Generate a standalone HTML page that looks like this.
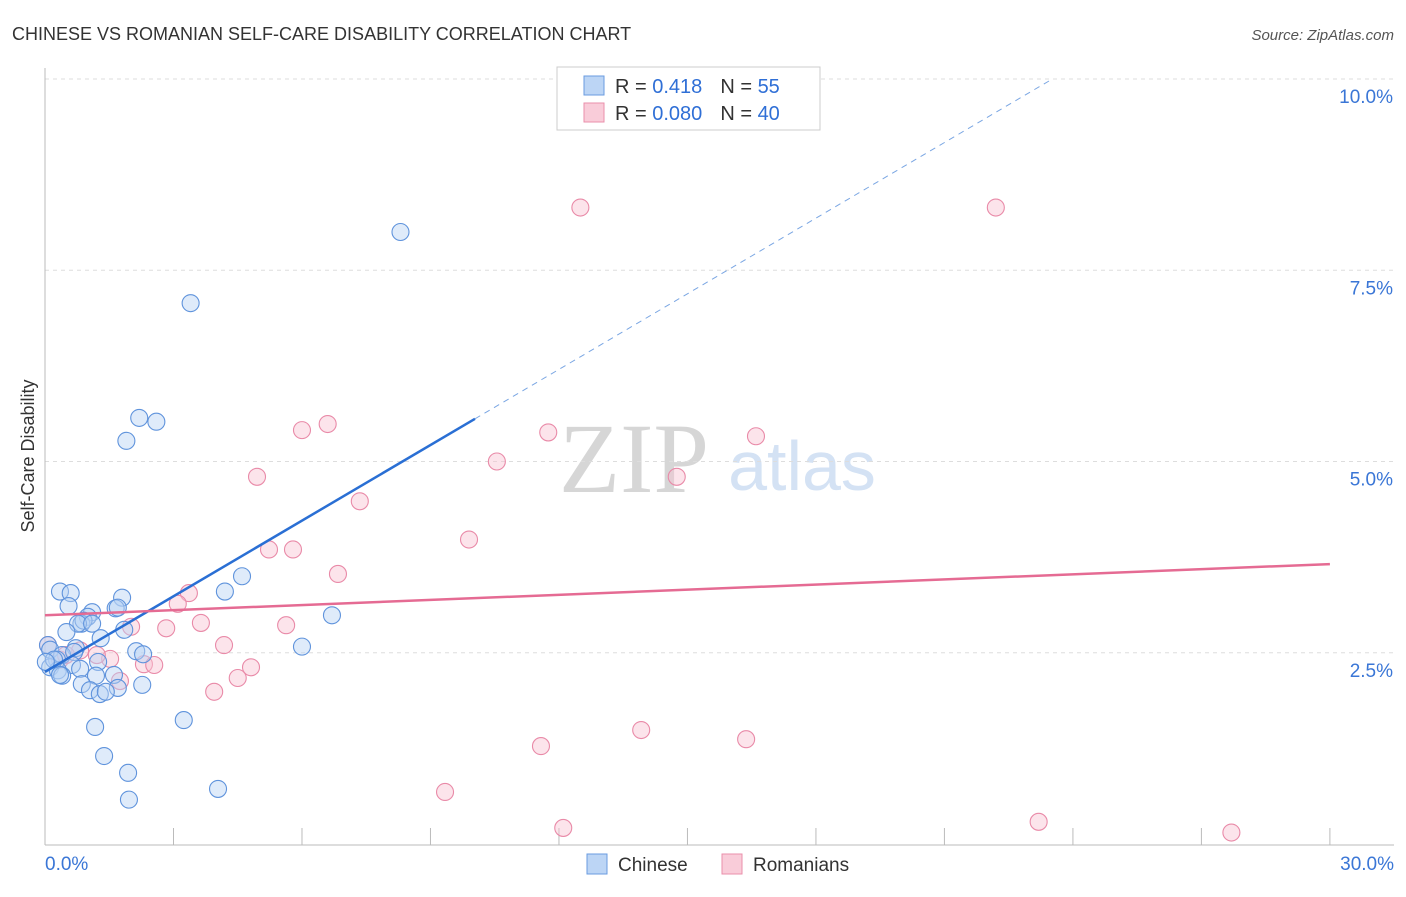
<!DOCTYPE html>
<html><head><meta charset="utf-8"><style>
body{margin:0;background:#fff;font-family:"Liberation Sans",sans-serif}
svg text{font-family:"Liberation Sans",sans-serif}
</style></head><body>
<svg id="c" width="1406" height="892">
<text x="12" y="40" font-size="18" fill="#333">CHINESE VS ROMANIAN SELF-CARE DISABILITY CORRELATION CHART</text>
<text x="1394" y="40" font-size="15" fill="#555" font-style="italic" text-anchor="end">Source: ZipAtlas.com</text>
<g><text x="634" y="492" font-size="100" fill="#d6d6d6" style="font-family:'Liberation Serif',serif" text-anchor="middle">ZIP</text><text x="802" y="490" font-size="70" fill="#d4e2f4" text-anchor="middle">atlas</text></g>
<g id="grid"></g><g id="axes"></g><g id="marks"></g>
<text transform="translate(34,456) rotate(-90)" font-size="18" fill="#333" text-anchor="middle">Self-Care Disability</text>
<g>
<rect x="557" y="67" width="263" height="63" fill="#fff" stroke="#ccc"/>
<rect x="584" y="76" width="20" height="19" fill="#bcd5f5" stroke="#6a9be0"/>
<rect x="584" y="103" width="20" height="19" fill="#f9ccd9" stroke="#ea8fab"/>
<text x="615" y="93" font-size="20" fill="#333">R = <tspan fill="#2f6fd6"> 0.418</tspan><tspan dx="18">N = </tspan><tspan fill="#2f6fd6">55</tspan></text>
<text x="615" y="120" font-size="20" fill="#333">R = <tspan fill="#2f6fd6">0.080</tspan><tspan dx="18">N = </tspan><tspan fill="#2f6fd6">40</tspan></text>
</g>
<g>
<rect x="587" y="854" width="20" height="20" fill="#bcd5f5" stroke="#6a9be0"/>
<text x="618" y="871" font-size="19" fill="#333">Chinese</text>
<rect x="722" y="854" width="20" height="20" fill="#f9ccd9" stroke="#ea8fab"/>
<text x="753" y="871" font-size="19" fill="#333">Romanians</text>
</g>
</svg>
<script>
const xTicks=[0,3,6,9,12,15,18,21,24,27,30];
const yTicks=[2.5,5.0,7.5,10.0];
const chineseX=[8.3,3.4,2.2,2.6,1.9,4.6,4.2,6.7,6.0,0.35,0.6,0.55,1.8,1.65,1.7,1.1,1.0,0.85,0.9,0.77,1.1,0.5,1.3,1.85,0.07,0.12,0.72,0.4,0.68,0.28,0.63,0.12,0.3,0.4,1.24,2.13,2.29,0.82,1.19,1.61,0.86,1.05,2.27,1.7,1.28,1.42,3.24,1.17,1.38,1.94,4.04,1.96,0.21,0.02,0.35];
const chineseY=[8.0,7.07,5.57,5.52,5.27,3.5,3.3,2.99,2.58,3.3,3.28,3.11,3.22,3.08,3.09,3.03,2.97,2.88,2.92,2.88,2.88,2.77,2.69,2.8,2.6,2.54,2.56,2.47,2.51,2.41,2.34,2.31,2.27,2.2,2.38,2.52,2.48,2.29,2.2,2.21,2.09,2.01,2.08,2.04,1.96,1.99,1.62,1.53,1.15,0.93,0.72,0.58,2.41,2.38,2.21];
const romX=[12.5,22.2,6.0,6.6,11.75,16.6,10.55,4.95,14.75,7.35,9.9,5.23,5.79,6.84,3.36,3.1,3.64,2.01,2.83,5.63,4.18,0.07,1.52,1.21,0.35,2.31,2.55,4.81,4.5,1.75,3.95,11.58,13.92,16.37,9.34,12.1,23.2,27.7,0.82,0.49];
const romY=[8.32,8.32,5.41,5.49,5.38,5.33,5.0,4.8,4.8,4.48,3.98,3.85,3.85,3.53,3.28,3.14,2.89,2.84,2.82,2.86,2.6,2.6,2.42,2.47,2.41,2.35,2.34,2.31,2.17,2.13,1.99,1.28,1.49,1.37,0.68,0.21,0.29,0.15,2.53,2.47];
const blueLine=[2.25,0.3295];
const pinkLine=[2.99,0.0223];
const X=v=>45+v*42.83, Y=v=>844-v*76.5;
const NS='http://www.w3.org/2000/svg';
function mk(t,a,p){const e=document.createElementNS(NS,t);for(const k in a)e.setAttribute(k,a[k]);p.appendChild(e);return e;}
const grid=document.getElementById('grid'),axes=document.getElementById('axes'),marks=document.getElementById('marks');
yTicks.forEach(t=>{const l=mk('line',{x1:45,x2:1394,y1:Y(t),y2:Y(t),stroke:'#ddd','stroke-dasharray':'4,4'},grid);


const tx=mk('text',{x:1393,y:Y(t)+24,'font-size':19,fill:'#3a76d6','text-anchor':'end'},axes);tx.textContent=t.toFixed(1)+'%';

});
const ya=mk('line',{x1:45,x2:45,y1:68,y2:845,stroke:'#bbb'},axes);


const xa=mk('line',{x1:45,x2:1394,y1:845,y2:845,stroke:'#bbb'},axes);


xTicks.forEach(t=>{const l=mk('line',{x1:X(t),x2:X(t),y1:828,y2:845,stroke:'#bbb'},axes);

});
[[0,'0.0%','start',45],[30,'30.0%','end',1394]].forEach(d=>{const tx=mk('text',{x:d[3],y:870,'font-size':19,fill:'#3a76d6','text-anchor':d[2]},axes);tx.textContent=d[1];

});
function pts(xs,ys,fill,stroke,name){xs.forEach((x,i)=>{const c=mk('circle',{cx:X(x),cy:Y(ys[i]),r:8.5,fill:fill,'fill-opacity':0.45,stroke:stroke,'stroke-width':1.1},marks);

});}
pts(romX,romY,'#f8c3d3','#e98aa8','romanian-point');
pts(chineseX,chineseY,'#b9d3f4','#5f93dc','chinese-point');
const bx=10.04,bEnd=(10-blueLine[0])/blueLine[1];
let l=mk('line',{x1:X(0),y1:Y(blueLine[0]),x2:X(bx),y2:Y(blueLine[0]+blueLine[1]*bx),stroke:'#2a6fd4','stroke-width':2.5},marks);


l=mk('line',{x1:X(bx),y1:Y(blueLine[0]+blueLine[1]*bx),x2:X(bEnd),y2:Y(10),stroke:'#7aa6e3','stroke-width':1,'stroke-dasharray':'6,5'},marks);


l=mk('line',{x1:X(0),y1:Y(pinkLine[0]),x2:X(30),y2:Y(pinkLine[0]+pinkLine[1]*30),stroke:'#e56b93','stroke-width':2.5},marks);


</script>
</body></html>
